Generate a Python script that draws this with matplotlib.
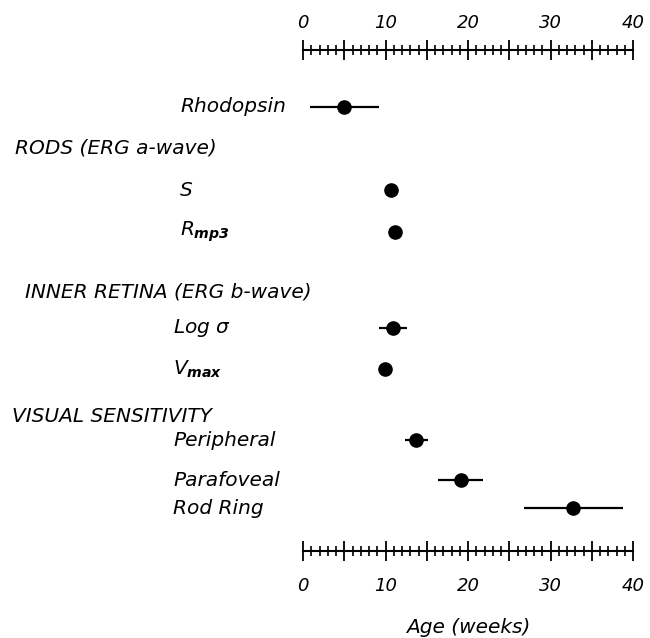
import numpy as np
import matplotlib
matplotlib.use('Agg')
import matplotlib.pyplot as plt

plt.rcParams['font.family'] = 'DejaVu Sans'
plt.rcParams['font.style'] = 'italic'
plt.rcParams['mathtext.fontset'] = 'custom'
plt.rcParams['mathtext.it'] = 'DejaVu Sans:italic'
plt.rcParams['mathtext.rm'] = 'DejaVu Sans:italic'
plt.rcParams['mathtext.bf'] = 'DejaVu Sans:italic:bold'

# age (weeks) at which each measure reaches half its adult value, with ranges
measures = ['Rhodopsin', 'S', r'$R_{\mathbf{mp3}}$', r'Log $\sigma$',
            r'$V_{\mathbf{max}}$', 'Peripheral', 'Parafoveal', 'Rod Ring']
age = [5.0, 10.7, 11.2, 10.9, 9.9, 13.7, 19.1, 32.7]
age_low = [0.85, 10.7, 11.2, 9.2, 9.9, 12.4, 16.4, 26.8]
age_high = [9.2, 10.7, 11.2, 12.6, 9.9, 15.2, 21.8, 38.8]
groups = ['RODS (ERG a-wave)', 'INNER RETINA (ERG b-wave)', 'VISUAL SENSITIVITY']
ticks = [0, 10, 20, 30, 40]

# vertical layout (pixels from top of the figure)
W, H = 650, 638
row_y = [107, 190, 232, 328, 369, 440, 480, 508]
label_x = [180, 180, 180, 173, 173, 173, 173, 173]
group_y = [148, 292, 417]
group_x = [15, 25, 12]
ax_top, ax_bot = 50, 551
ax_left, ax_right = 303, 633
FS = 14.5


def ruler(axis, pad):
    # long ticks every 5 weeks, short ones every week, labels every 10
    axis.set_xticks(range(0, 41, 5))
    axis.set_xticklabels([str(v) if v in ticks else '' for v in range(0, 41, 5)])
    axis.xaxis.set_minor_locator(plt.FixedLocator(
        [v for v in range(41) if v % 5 != 0]))
    axis.tick_params(axis='x', which='major', direction='inout', length=14,
                     width=1.3, labelsize=13, pad=pad)
    axis.tick_params(axis='x', which='minor', direction='inout', length=6.5,
                     width=1.2)


fig = plt.figure(figsize=(W / 100, H / 100), dpi=100)
ax = fig.add_axes([ax_left / W, 1 - ax_bot / H, (ax_right - ax_left) / W,
                   (ax_bot - ax_top) / H])
ax.set_xlim(0, 40)
ax.set_ylim(ax_bot, ax_top)

age = np.array(age)
xerr = [age - np.array(age_low), np.array(age_high) - age]
ax.errorbar(age, row_y, xerr=xerr, fmt='o', color='black', ms=9.5,
            elinewidth=1.6, capsize=0)

for s in ['left', 'right', 'top']:
    ax.spines[s].set_visible(False)
ax.spines['bottom'].set_linewidth(1.5)
ax.set_yticks([])
ruler(ax, 12)

top = ax.secondary_xaxis('top')
top.spines['top'].set_linewidth(1.5)
ruler(top, 6)

ax.set_xlabel('Age (weeks)', fontsize=FS, labelpad=16, style='italic')

for name, x, y in zip(measures, label_x, row_y):
    fig.text(x / W, 1 - y / H, name, fontsize=FS, style='italic',
             ha='left', va='center')
for name, x, y in zip(groups, group_x, group_y):
    fig.text(x / W, 1 - y / H, name, fontsize=FS, style='italic',
             ha='left', va='center')

fig.savefig('out.png', dpi=100)
